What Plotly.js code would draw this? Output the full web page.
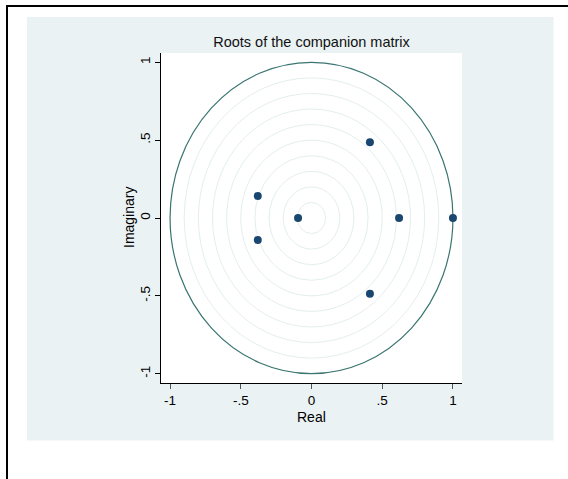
<!DOCTYPE html>
<html>
<head>
<meta charset="utf-8">
<script src="https://cdn.plot.ly/plotly-3.0.1.min.js"></script>
<style>html,body{margin:0;padding:0;background:#fff;}#chart{width:568px;height:479px;}</style>
</head>
<body>
<div id="chart"></div>
<script>
var realParts = [0.413, -0.380, -0.380, -0.095, 0.619, 1.000, 0.413];
var imagParts = [0.486, 0.141, -0.141, 0.000, 0.000, 0.000, -0.486];
var gridRadii = [0.1, 0.2, 0.3, 0.4, 0.5, 0.6, 0.7, 0.8, 0.9];
var unitRadius = 1;
var tickVals = [-1, -0.5, 0, 0.5, 1];
var tickText = ['-1', '-.5', '0', '.5', '1'];

var W = 568, H = 479;
var L = 161, R = 462, T = 53, B = 383;
function px(x){ return (x - L) / (R - L); }
function py(y){ return (B - y) / (B - T); }

var shapes = [];
shapes.push({type:'rect', xref:'paper', yref:'paper', layer:'below',
  x0:px(27), x1:px(553.5), y0:py(440.5), y1:py(17), fillcolor:'#eaf2f3', line:{width:0}});
shapes.push({type:'rect', xref:'paper', yref:'paper', layer:'below',
  x0:0, x1:1, y0:0, y1:1, fillcolor:'#ffffff', line:{width:0}});
shapes.push({type:'line', xref:'paper', yref:'paper', layer:'above',
  x0:px(7), x1:px(7), y0:py(6), y1:py(480), line:{color:'#000', width:2}});
shapes.push({type:'line', xref:'paper', yref:'paper', layer:'above',
  x0:px(6), x1:px(569), y0:py(6), y1:py(6), line:{color:'#000', width:2}});
gridRadii.forEach(function(r){
  shapes.push({type:'circle', xref:'x', yref:'y', layer:'below',
    x0:-r, x1:r, y0:-r, y1:r, line:{color:'#e4eeee', width:1}});
});
shapes.push({type:'circle', xref:'x', yref:'y', layer:'below',
  x0:-unitRadius, x1:unitRadius, y0:-unitRadius, y1:unitRadius, line:{color:'#3a7570', width:1.2}});

var trace = {
  x: realParts, y: imagParts, type:'scatter', mode:'markers',
  marker:{color:'#1a476f', size:8}, hoverinfo:'skip'
};

var fontFam = 'Liberation Sans, Arial, sans-serif';
var layout = {
  width:W, height:H,
  margin:{l:L, r:W-R, t:T, b:H-B, pad:0},
  paper_bgcolor:'#ffffff', plot_bgcolor:'rgba(0,0,0,0)',
  showlegend:false,
  font:{family:fontFam, color:'#000', size:14},
  title:{text:'Roots of the companion matrix', font:{family:fontFam, size:14.5, color:'#111'},
    xref:'paper', x:0.5, xanchor:'center', yref:'container', y:1-42/H, yanchor:'middle'},
  xaxis:{range:[-1.064, 1.064], tickvals:tickVals, ticktext:tickText,
    showgrid:false, zeroline:false, showline:true, linecolor:'#000', linewidth:1,
    ticks:'outside', ticklen:5, tickcolor:'#555', tickwidth:1,
    tickfont:{family:fontFam, size:13.5, color:'#000'}},
  yaxis:{range:[-1.06, 1.06], tickvals:tickVals, ticktext:tickText, tickangle:-90,
    showgrid:false, zeroline:false, showline:true, linecolor:'#000', linewidth:1,
    ticks:'outside', ticklen:5, tickcolor:'#000', tickwidth:1,
    tickfont:{family:fontFam, size:13.5, color:'#000'}},
  annotations:[
    {text:'Real', xref:'paper', yref:'paper', x:0.5, y:py(408), xanchor:'center', yanchor:'top',
      showarrow:false, borderpad:0, font:{family:fontFam, size:14, color:'#000'}},
    {text:'Imaginary', xref:'paper', yref:'paper', x:px(138), y:0.5, xanchor:'right', yanchor:'middle',
      textangle:-90, showarrow:false, borderpad:0, font:{family:fontFam, size:14, color:'#000'}}
  ],
  shapes:shapes
};
Plotly.newPlot('chart', [trace], layout, {displayModeBar:false, staticPlot:true});
</script>
</body>
</html>
